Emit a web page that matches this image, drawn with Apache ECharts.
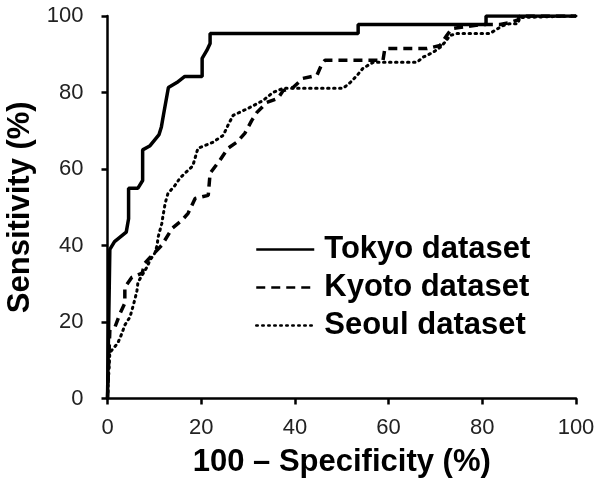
<!DOCTYPE html>
<html>
<head>
<meta charset="utf-8">
<script src="https://cdn.jsdelivr.net/npm/echarts@6/dist/echarts.min.js"></script>
<style>
  html, body { margin: 0; padding: 0; background: #fff; }
  #roc { width: 600px; height: 483px; }
</style>
</head>
<body>
<div id="roc"></div>
<script>
// 100 - specificity (x) and sensitivity (y)
const tokyoX = [0, 0.5, 1.5, 4, 4.5, 4.5, 6.5, 7.5, 7.5, 9, 11, 11.5, 12, 13, 14.8, 16.5, 20.2, 20.2, 21.2, 21.9, 21.9, 53.5, 53.5, 80.8, 80.8, 100];
const tokyoY = [0, 39, 41, 43.5, 47, 55, 55, 57, 65, 66, 69, 71, 74.5, 81.3, 82.6, 84.2, 84.2, 88.9, 91, 92.8, 95.4, 95.4, 97.8, 97.8, 100, 100];

const kyotoX = [0, 0.5, 1.6, 2.7, 3.7, 3.7, 5.2, 7.4, 8, 9.1, 10.6, 11.6, 13.8, 15.9, 17.2, 18.7, 21.5, 21.9, 24, 25.7, 27.6, 29.3, 30.8, 31.9, 34, 36.4, 37.5, 39.6, 41.7, 44.7, 45.8, 46.4, 58.8, 59.2, 68.2, 71, 72.4, 73.5, 80.1, 83.8, 86, 87.6, 88, 100];
const kyotoY = [0, 17.9, 18.7, 22.3, 24.9, 29.1, 31.7, 32.8, 35.4, 36.9, 38.8, 40.1, 44.5, 46.6, 48.4, 52.3, 53.1, 58.9, 62.3, 65.4, 67, 69.3, 72.7, 74.8, 77.4, 78.5, 80.5, 81.3, 83.7, 84.5, 87.6, 88.4, 88.4, 91.5, 91.5, 92.3, 94.9, 96.7, 97.8, 97.8, 98.3, 99, 100, 100];

const seoulX = [0, 0.5, 2.2, 3.1, 3.7, 4.8, 5.4, 5.9, 6.3, 6.5, 8.4, 9.1, 10.1, 10.6, 10.8, 11.6, 11.8, 12.3, 12.9, 14.4, 15.5, 18.2, 19.3, 22.5, 24.7, 25.7, 26.8, 30.4, 33.2, 35.3, 37.5, 50.3, 51.8, 53.3, 54.5, 56.7, 66.1, 67.3, 69.5, 71, 72, 73.1, 74.6, 81.6, 83.3, 84.4, 85.9, 87.6, 88, 100];
const seoulY = [0, 12, 14.5, 17.1, 19.2, 21.3, 23.9, 26.2, 28.3, 30.4, 34.3, 36.2, 38, 40.1, 42.2, 45.8, 47.4, 51, 53.6, 55.7, 57.7, 60.8, 65.4, 67, 68.8, 71.4, 74, 76.1, 77.9, 80, 81.1, 81.1, 82.6, 84.5, 86.3, 87.9, 87.9, 89.2, 90.5, 91.8, 93.1, 94.9, 95.4, 95.4, 96.7, 97.5, 98, 98, 99.6, 100];

const axisTicks = [0, 20, 40, 60, 80, 100];

function pairs(xs, ys) {
  return xs.map((x, i) => [x, ys[i]]);
}

const labelFont = 'Liberation Sans, Arial, sans-serif';

const myChart = echarts.init(document.getElementById('roc'));
myChart.setOption({
  animation: false,
  grid: {
    left: 107.5,
    right: 24,
    top: 16,
    bottom: 84.5,
    outerBoundsMode: 'none'
  },
  legend: {
    orient: 'vertical',
    left: 250,
    top: 229,
    itemWidth: 58,
    itemHeight: 14,
    itemGap: 7,
    itemStyle: { opacity: 0 },
    lineStyle: { width: 2.5 },
    textStyle: {
      fontFamily: labelFont,
      fontWeight: 'bold',
      fontSize: 31,
      lineHeight: 31,
      color: '#000',
      padding: [0, 0, 0, 5]
    },
    data: ['Tokyo dataset', 'Kyoto dataset', 'Seoul dataset']
  },
  xAxis: {
    type: 'value',
    min: axisTicks[0],
    max: axisTicks[axisTicks.length - 1],
    interval: 20,
    name: '100 \u2013 Specificity (%)',
    nameLocation: 'middle',
    nameGap: 48,
    nameTextStyle: {
      fontFamily: labelFont,
      fontWeight: 'bold',
      fontSize: 31,
      color: '#000'
    },
    splitLine: { show: false },
    axisLine: { lineStyle: { color: '#000', width: 2.5 } },
    axisTick: { length: 6, lineStyle: { color: '#000', width: 2.5 } },
    axisLabel: {
      margin: 18,
      fontFamily: labelFont,
      fontSize: 22,
      color: '#222'
    }
  },
  yAxis: {
    type: 'value',
    min: axisTicks[0],
    max: axisTicks[axisTicks.length - 1],
    interval: 20,
    name: 'Sensitivity (%)',
    nameLocation: 'middle',
    nameGap: 71,
    nameTextStyle: {
      fontFamily: labelFont,
      fontWeight: 'bold',
      fontSize: 31,
      color: '#000'
    },
    splitLine: { show: false },
    axisLine: { lineStyle: { color: '#000', width: 2.5 } },
    axisTick: { length: 6, lineStyle: { color: '#000', width: 2.5 } },
    axisLabel: {
      margin: 24,
      fontFamily: labelFont,
      fontSize: 22,
      color: '#222'
    }
  },
  series: [
    {
      name: 'Seoul dataset',
      type: 'line',
      symbol: 'none',
      data: pairs(seoulX, seoulY),
      lineStyle: { color: '#000', width: 3, type: [1.5, 4.5], cap: 'round' },
      itemStyle: { color: '#000' }
    },
    {
      name: 'Kyoto dataset',
      type: 'line',
      symbol: 'none',
      data: pairs(kyotoX, kyotoY),
      lineStyle: { color: '#000', width: 3.5, type: [9, 6] },
      itemStyle: { color: '#000' }
    },
    {
      name: 'Tokyo dataset',
      type: 'line',
      symbol: 'none',
      data: pairs(tokyoX, tokyoY),
      lineStyle: { color: '#000', width: 3.5 },
      itemStyle: { color: '#000' }
    }
  ]
});
</script>
</body>
</html>
